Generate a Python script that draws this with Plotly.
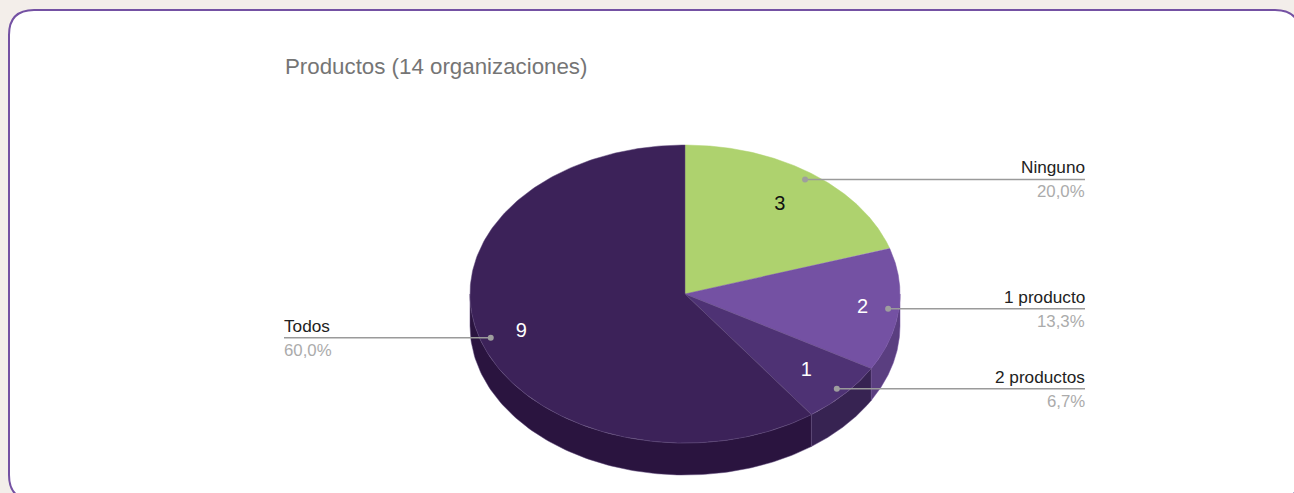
import numpy as np
import plotly.graph_objects as go

# ---- data ----
categories = ["Ninguno", "1 producto", "2 productos", "Todos"]
values = [3, 2, 1, 9]
percent_labels = ["20,0%", "13,3%", "6,7%", "60,0%"]
title_text = "Productos (14 organizaciones)"

# ---- style ----
top_colors = ["#aed26e", "#7451a3", "#4e3274", "#3c2259"]
side_colors = ["#8ba858", "#5a3e80", "#372352", "#2a143f"]
edge_colors = ["#aed26e", "#7451a3", "#6a5088", "#5d4778"]
number_colors = ["#111111", "#ffffff", "#ffffff", "#ffffff"]
number_radius = [0.75, 0.83, 0.76, 0.80]
W, H = 1294, 493
CX, CY, RX, RY, DEPTH = 685, 294, 215, 149, 32
DOT_R = 0.95
LABEL_RIGHT, LABEL_LEFT = 1085, 284


def pt(angle, r=1.0, dy=0.0):
    return CX + RX * r * np.sin(angle), CY - RY * r * np.cos(angle) + dy


total = sum(values)
bounds = np.cumsum([0] + values) / total * 2 * np.pi
fig = go.Figure()

# side walls (only the front half, from 3 o'clock to 9 o'clock, is visible)
for i in range(len(values)):
    a0, a1 = max(bounds[i], np.pi / 2), min(bounds[i + 1], 3 * np.pi / 2)
    if a1 <= a0:
        continue
    t = np.linspace(a0, a1, 120)
    xt, yt = pt(t)
    xb, yb = pt(t[::-1], dy=DEPTH)
    fig.add_trace(go.Scatter(
        x=np.r_[xt, xb, xt[0]], y=np.r_[yt, yb, yt[0]],
        mode="lines", fill="toself", fillcolor=side_colors[i],
        line=dict(color=edge_colors[i], width=0.5), hoverinfo="skip",
    ))

# top faces
for i in range(len(values)):
    t = np.linspace(bounds[i], bounds[i + 1], 240)
    xt, yt = pt(t)
    fig.add_trace(go.Scatter(
        x=np.r_[CX, xt, CX], y=np.r_[CY, yt, CY],
        mode="lines", fill="toself", fillcolor=top_colors[i],
        line=dict(color=edge_colors[i], width=0.5),
        hoverinfo="text", text=f"{categories[i]}: {values[i]} ({percent_labels[i]})",
    ))

# leader lines, dots, value numbers, labels
annotations = []
for i, (name, pct) in enumerate(zip(categories, percent_labels)):
    mid = (bounds[i] + bounds[i + 1]) / 2
    dx, dy = pt(mid, DOT_R)
    left_side = mid > np.pi
    end = LABEL_LEFT if left_side else LABEL_RIGHT
    fig.add_trace(go.Scatter(x=[dx, end], y=[dy, dy], mode="lines",
                             line=dict(color="#9a9a9a", width=1.6), hoverinfo="skip"))
    fig.add_trace(go.Scatter(x=[dx], y=[dy], mode="markers",
                             marker=dict(color="#9e9e9e", size=6), hoverinfo="skip"))
    nx, ny = pt(mid, number_radius[i])
    fig.add_trace(go.Scatter(x=[nx], y=[ny + 1], mode="text", text=[str(values[i])],
                             textposition="middle center",
                             textfont=dict(size=20, color=number_colors[i],
                                           family="Liberation Sans"),
                             hoverinfo="skip"))
    anchor = "left" if left_side else "right"
    annotations.append(dict(x=end, y=dy, text=name, showarrow=False, xanchor=anchor,
                            yanchor="bottom", yshift=2, borderpad=0, borderwidth=0,
                            font=dict(size=17.2, color="#222222", family="Liberation Sans")))
    annotations.append(dict(x=end, y=dy, text=pct, showarrow=False, xanchor=anchor,
                            yanchor="top", yshift=-3, borderpad=0, borderwidth=0,
                            font=dict(size=16.8, color="#ababab", family="Liberation Sans")))

annotations.append(dict(x=283, y=66, text=title_text, showarrow=False, xanchor="left",
                        yanchor="middle", font=dict(size=22.3, color="#757575",
                                                    family="Liberation Sans")))

card = "M 34 10 L 1275 10 Q 1300 10 1300 35 L 1300 475 Q 1300 500 1275 500 L 34 500 Q 9 500 9 475 L 9 35 Q 9 10 34 10 Z"
fig.update_layout(
    width=W, height=H, margin=dict(l=0, r=0, t=0, b=0),
    paper_bgcolor="#f3eeea", plot_bgcolor="rgba(0,0,0,0)", showlegend=False,
    xaxis=dict(range=[0, W], visible=False, fixedrange=True),
    yaxis=dict(range=[H, 0], visible=False, fixedrange=True),
    shapes=[dict(type="path", path=card, xref="x", yref="y", layer="below",
                 fillcolor="#ffffff", line=dict(color="#7451a3", width=2))],
    annotations=annotations,
)

fig.write_html("out.html", config={"displayModeBar": False},
               post_script="document.body.style.margin='0';document.body.style.overflow='hidden';")
